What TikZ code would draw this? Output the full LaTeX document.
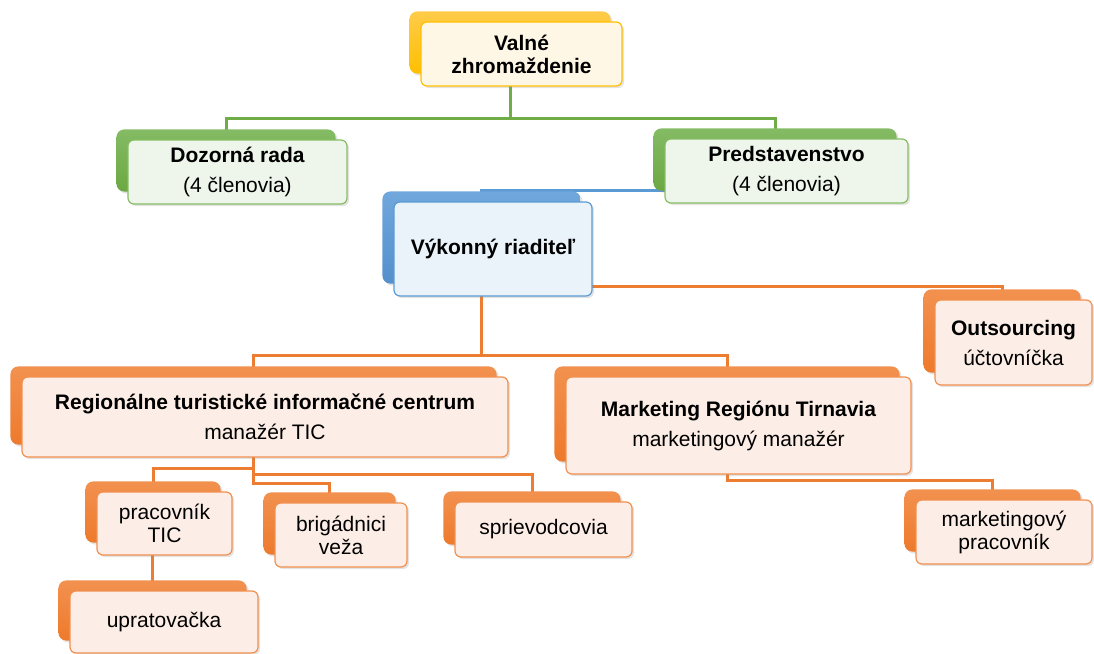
\documentclass[tikz,border=0pt]{standalone}
\usepackage{fontspec}
\setmainfont{Liberation Sans}
\usetikzlibrary{positioning, calc, fit, shadows}

\pgfdeclarelayer{lines}
\pgfdeclarelayer{back}
\pgfsetlayers{lines,back,main}

\definecolor{ylwtop}{HTML}{FFCB4A}
\definecolor{ylwbot}{HTML}{FFC000}
\definecolor{ylwfill}{HTML}{FFF7E6}
\definecolor{grntop}{HTML}{84BB64}
\definecolor{grnbot}{HTML}{6CA842}
\definecolor{grnfill}{HTML}{EEF5EA}
\definecolor{grnedge}{HTML}{86BE63}
\definecolor{grnln}{HTML}{70AD47}
\definecolor{blutop}{HTML}{70A7DC}
\definecolor{blubot}{HTML}{5590CC}
\definecolor{blufill}{HTML}{EAF2FA}
\definecolor{bluln}{HTML}{5B9BD5}
\definecolor{ortop}{HTML}{F2914F}
\definecolor{orbot}{HTML}{EE7A2C}
\definecolor{orfill}{HTML}{FCEEE6}
\definecolor{oredge}{HTML}{F1904F}
\definecolor{orln}{HTML}{ED7D31}

\begin{document}
\begin{tikzpicture}[x=1pt, y=-1pt, font=\fontsize{21}{23}\selectfont]
  \newcommand\accback[2]{% front node, colour
    \begin{pgfonlayer}{back}
      \node[#2back, fit={($(#1.north west)+(-11,-10)$) ($(#1.south east)+(-12,-13)$)}] (#1-b) {};
    \end{pgfonlayer}}
  \newcommand\subgap{\\[7pt]}

  \tikzset{shd/.style={drop shadow={opacity=0.22, shadow xshift=2pt, shadow yshift=-2pt}}}
  \tikzset{bkbox/.style={inner sep=0, rounded corners=8, shd}}
  \tikzset{ylwback/.style={bkbox, top color=ylwtop, bottom color=ylwbot}}
  \tikzset{grnback/.style={bkbox, top color=grntop, bottom color=grnbot}}
  \tikzset{bluback/.style={bkbox, top color=blutop, bottom color=blubot}}
  \tikzset{orback/.style={bkbox, top color=ortop, bottom color=orbot}}
  \tikzset{frbox/.style={rounded corners=6, line width=1.2, align=center, inner sep=0, shd}}
  \tikzset{ylwfront/.style={frbox, draw=ylwbot, fill=ylwfill}}
  \tikzset{grnfront/.style={frbox, draw=grnedge, fill=grnfill}}
  \tikzset{blufront/.style={frbox, draw=bluln, fill=blufill}}
  \tikzset{orfront/.style={frbox, draw=oredge, fill=orfill}}
  \tikzset{link/.style={line width=3}}
  \tikzset{grnlink/.style={link, draw=grnln}}
  \tikzset{blulink/.style={link, draw=bluln}}
  \tikzset{orlink/.style={link, draw=orln}}

  \useasboundingbox (0,0) rectangle (1094,653);

  % board level
  \node[ylwfront, minimum width=201, minimum height=64] at (521.5,54) (valne) {\textbf{Valné}\\\textbf{zhromaždenie}};
  \node[grnfront, minimum width=219, minimum height=64] at (237.5,172) (dozorna) {\textbf{Dozorná rada}\subgap(4 členovia)};
  \node[grnfront, minimum width=243, minimum height=64] at (786.5,171) (pred) {\textbf{Predstavenstvo}\subgap(4 členovia)};
  \node[blufront, minimum width=198, minimum height=94] at (493,249) (vyk) {\textbf{Výkonný riaditeľ}};

  % departments
  \node[orfront, minimum width=157, minimum height=85] at (1013.5,342.5) (outs) {\textbf{Outsourcing}\subgap účtovníčka};
  \node[orfront, minimum width=486, minimum height=80] at (265,417) (rtic) {\textbf{Regionálne turistické informačné centrum}\subgap manažér TIC};
  \node[orfront, minimum width=345, minimum height=97] at (738.5,425.5) (mkt) {\textbf{Marketing Regiónu Tirnavia}\subgap marketingový manažér};

  % staff
  \node[orfront, minimum width=135, minimum height=63] at (164.5,523.5) (prac) {pracovník\\TIC};
  \node[orfront, minimum width=132, minimum height=64] at (341,535) (brig) {brigádnici\\veža};
  \node[orfront, minimum width=177, minimum height=55] at (543.5,529.5) (sprie) {sprievodcovia};
  \node[orfront, minimum width=188, minimum height=62] at (164,622) (uprat) {upratovačka};
  \node[orfront, minimum width=176, minimum height=64] at (1004,532) (mp) {marketingový\\pracovník};

  \accback{valne}{ylw}
  \accback{dozorna}{grn}
  \accback{pred}{grn}
  \accback{vyk}{blu}
  \foreach \id in {outs, rtic, mkt, prac, brig, sprie, uprat, mp}{
    \accback{\id}{or}
  }

  % connectors
  \begin{pgfonlayer}{lines}
    \coordinate (bus-vz) at (0,118);
    \coordinate (bus-vo) at (0,286);
    \coordinate (bus-vr) at (0,355);
    \coordinate (bus-rp) at (0,468);
    \coordinate (bus-rs) at (0,474);
    \coordinate (bus-rb) at (0,483);
    \coordinate (bus-mp) at (0,480);
    \draw[grnlink] (valne-b.center) |- (bus-vz -| dozorna-b) -- (dozorna-b.center);
    \draw[grnlink] (valne-b.center) |- (bus-vz -| pred-b) -- (pred-b.center);
    \draw[blulink] (vyk-b.center) |- (pred-b.south);
    \draw[orlink] (vyk-b.center |- bus-vo) -| (outs-b.center);
    \draw[orlink] (vyk-b.center) |- (bus-vr -| rtic-b) -- (rtic-b.center);
    \draw[orlink] (vyk-b.center) |- (bus-vr -| mkt-b) -- (mkt-b.center);
    \draw[orlink] (rtic-b.center) |- (bus-rp -| prac-b) -- (prac-b.center);
    \draw[orlink] (rtic-b.center) |- (bus-rs -| sprie-b) -- (sprie-b.center);
    \draw[orlink] (rtic-b.center) |- (bus-rb -| brig-b) -- (brig-b.center);
    \draw[orlink] (prac-b.center) -| (uprat-b.center);
    \draw[orlink] (mkt-b.center) |- (bus-mp -| mp-b) -- (mp-b.center);
  \end{pgfonlayer}
\end{tikzpicture}
\end{document}
